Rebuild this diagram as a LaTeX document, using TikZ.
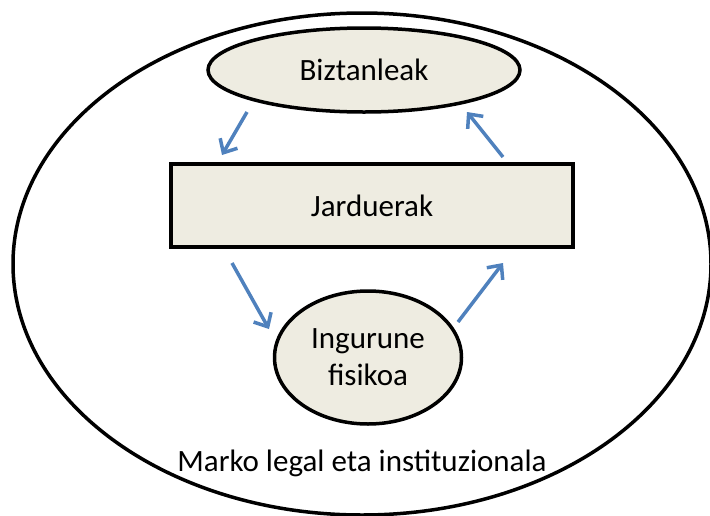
\documentclass[tikz,border=0pt]{standalone}
\usepackage{fontspec}
\setmainfont{Carlito}
\usetikzlibrary{arrows.meta,shapes.geometric}
\definecolor{tanfill}{HTML}{EEECE1}
\definecolor{arrowblue}{HTML}{4F81BD}
\tikzset{
  shapebox/.style={draw=black,line width=3.5pt,fill=tanfill,font=\fontsize{31}{36}\selectfont},
  flowarrow/.style={draw=arrowblue,line width=3.5pt,-{Straight Barb[length=11pt,width=20pt,line width=3.5pt]}},
}
\begin{document}
\begin{tikzpicture}[x=1pt,y=-1pt]
\useasboundingbox (0,0) rectangle (710,515);
\draw[line width=3.5pt] (362,264) ellipse [x radius=349,y radius=251];
\node[shapebox,ellipse,minimum width=312pt,minimum height=84pt,inner sep=0pt] (biz) at (364,70) {Biztanleak};
\node[shapebox,rectangle,minimum width=402pt,minimum height=83pt,inner sep=0pt] (jard) at (372,205.5) {Jarduerak};
\node[shapebox,ellipse,minimum width=187pt,minimum height=133pt,inner sep=0pt,align=center] (ing) at (368,357.5) {Ingurune\\[1pt]fisikoa};
\node[font=\fontsize{31}{36}\selectfont] (marko) at (362,463) {Marko legal eta instituzionala};
\coordinate (a1s) at (247,112); \coordinate (a1e) at (222,155);
\coordinate (a2s) at (503,157); \coordinate (a2e) at (467,112);
\coordinate (a3s) at (232,263); \coordinate (a3e) at (269,329);
\coordinate (a4s) at (458,322); \coordinate (a4e) at (503,263);
\draw[flowarrow] (a1s) -- (a1e);
\draw[flowarrow] (a2s) -- (a2e);
\draw[flowarrow] (a3s) -- (a3e);
\draw[flowarrow] (a4s) -- (a4e);
\end{tikzpicture}
\end{document}
